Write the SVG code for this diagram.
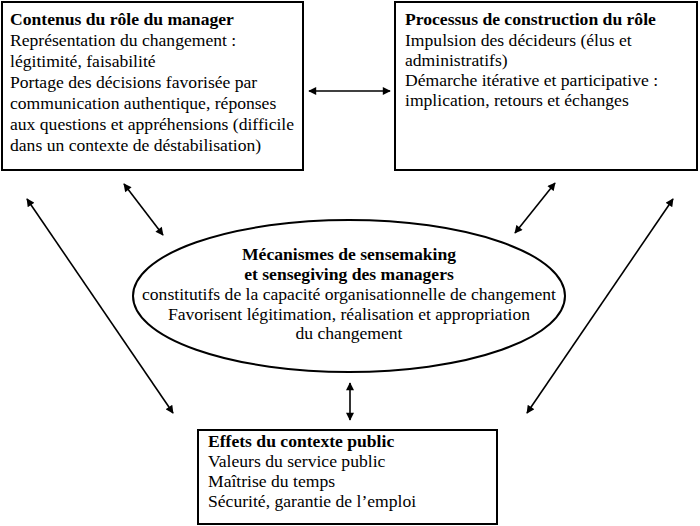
<svg xmlns="http://www.w3.org/2000/svg" width="700" height="526" viewBox="0 0 700 526">
<style>
text{font-family:"Liberation Serif","Times New Roman",serif;font-size:17.6px;fill:#000}
.b{font-weight:bold}
.box{fill:#fff;stroke:#000;stroke-width:2}
.c{stroke:#000;stroke-width:1.6;fill:none;marker-start:url(#ah);marker-end:url(#ah)}
</style>
<defs>
<marker id="ah" viewBox="0 0 10 10" refX="9" refY="5" markerWidth="9" markerHeight="8" markerUnits="userSpaceOnUse" orient="auto-start-reverse">
<path d="M0,0 L10,5 L0,10 z" fill="#000"/>
</marker>
</defs>
<rect width="700" height="526" fill="#fff"/>
<g id="connectors">
<line class="c" x1="309" y1="91" x2="390" y2="91"/>
<line class="c" x1="124" y1="184" x2="163" y2="235"/>
<line class="c" x1="27" y1="199" x2="173" y2="413"/>
<line class="c" x1="555" y1="183" x2="515" y2="233"/>
<line class="c" x1="673" y1="199" x2="527" y2="413"/>
<line class="c" x1="350" y1="383" x2="350" y2="420"/>
</g>
<g id="role-contents">
<rect class="box" x="2" y="2" width="301" height="168"/>
<text x="10" y="25" class="b">Contenus du rôle du manager</text>
<text x="10" y="46">Représentation du changement :</text>
<text x="10" y="67">légitimité, faisabilité</text>
<text x="10" y="88">Portage des décisions favorisée par</text>
<text x="10" y="109">communication authentique, réponses</text>
<text x="10" y="130">aux questions et appréhensions (difficile</text>
<text x="10" y="151">dans un contexte de déstabilisation)</text>
</g>
<g id="role-process">
<rect class="box" x="395" y="2" width="302" height="168"/>
<text x="405" y="25" class="b">Processus de construction du rôle</text>
<text x="405" y="46">Impulsion des décideurs (élus et</text>
<text x="405" y="66">administratifs)</text>
<text x="405" y="86">Démarche itérative et participative :</text>
<text x="405" y="106">implication, retours et échanges</text>
</g>
<g id="mechanisms">
<ellipse cx="349" cy="296" rx="216" ry="76" fill="#fff" stroke="#000" stroke-width="2"/>
<text x="349" y="260" class="b" text-anchor="middle">Mécanismes de sensemaking</text>
<text x="349" y="280" class="b" text-anchor="middle">et sensegiving des managers</text>
<text x="349" y="300" text-anchor="middle">constitutifs de la capacité organisationnelle de changement</text>
<text x="349" y="320" text-anchor="middle">Favorisent légitimation, réalisation et appropriation</text>
<text x="349" y="339" text-anchor="middle">du changement</text>
</g>
<g id="public-context">
<rect class="box" x="198" y="430" width="299" height="94"/>
<text x="208" y="447" class="b">Effets du contexte public</text>
<text x="208" y="467">Valeurs du service public</text>
<text x="208" y="487">Maîtrise du temps</text>
<text x="208" y="507">Sécurité, garantie de l’emploi</text>
</g>
</svg>
